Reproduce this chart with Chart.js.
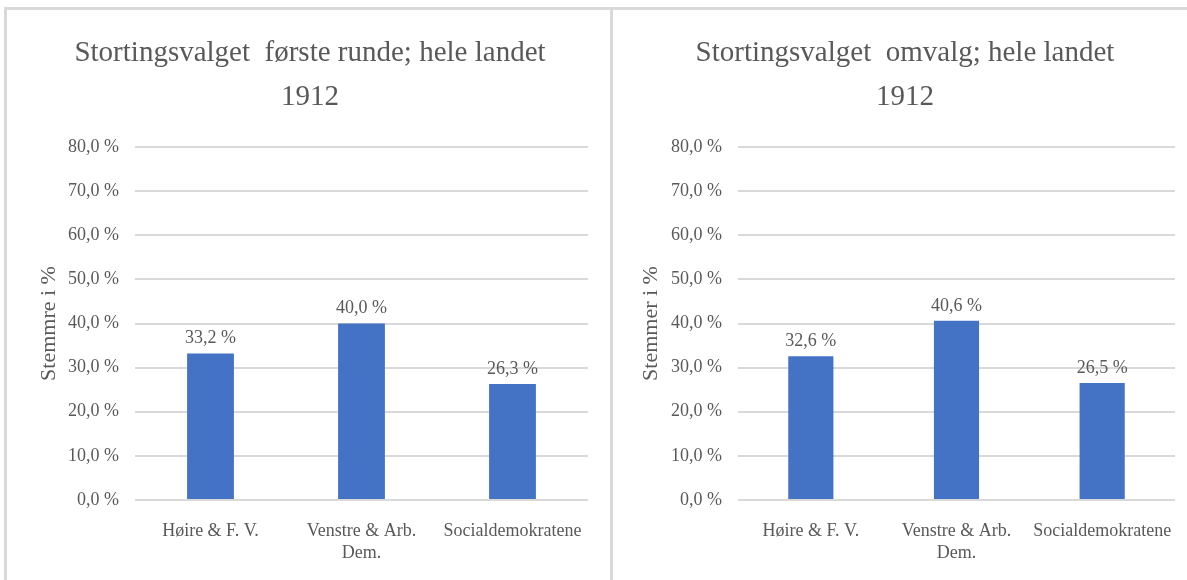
<!DOCTYPE html>
<html>
<head>
<meta charset="utf-8">
<script src="https://cdn.jsdelivr.net/npm/chart.js@4"></script>
<style>
  body { margin: 0; background: #fff; }
  .panel { position: absolute; top: 7px; height: 600px; box-sizing: border-box; border: 3px solid #d9d9d9; border-bottom: none; }
  #p1 { left: 4px; width: 609px; }
  #p2 { left: 610px; width: 620px; border-right: none; }
  canvas { position: absolute; top: 0; left: 0; }
</style>
</head>
<body>
<div class="panel" id="p1"><canvas id="forsteRunde" width="603" height="570"></canvas></div>
<div class="panel" id="p2"><canvas id="omvalg" width="574" height="570"></canvas></div>
<script>
// partier og stemmeandeler (prosent)
const partier = ['Høire & F. V.', ['Venstre & Arb.', 'Dem.'], 'Socialdemokratene'];
const forsteRunde = [33.2, 40.0, 26.3];
const omvalg = [32.6, 40.6, 26.5];
const yMin = 0;
const yMax = 80;
const ySteg = 10;

const gra = '#595959';
const bla = '#4472C4';
const serif = "'Liberation Serif', 'Times New Roman', serif";

const prosent = (v) => v.toFixed(1).replace('.', ',') + ' %';

// skriver verdien over hver stolpe
const verdiEtiketter = {
    id: 'verdiEtiketter',
    afterDatasetsDraw(chart) {
        const ctx = chart.ctx;
        const meta = chart.getDatasetMeta(0);
        ctx.save();
        ctx.font = '18px ' + serif;
        ctx.fillStyle = gra;
        ctx.textAlign = 'center';
        ctx.textBaseline = 'bottom';
        meta.data.forEach((bar, i) => {
            ctx.fillText(prosent(chart.data.datasets[0].data[i]), bar.x, bar.y - 6);
        });
        ctx.restore();
    }
};

const lagDiagram = (id, tittel, aksetittel, data, venstrePad, yBredde, tittelPad, hoyrePad) => {
    const ctx = document.getElementById(id).getContext('2d');
    return new Chart(ctx, {
        type: 'bar',
        data: {
            labels: partier,
            datasets: [{
                data: data,
                backgroundColor: bla,
                categoryPercentage: 1,
                barPercentage: 0.31
            }]
        },
        options: {
            responsive: false,
            animation: false,
            layout: { padding: { left: venstrePad, right: hoyrePad, top: 0, bottom: 0 } },
            plugins: {
                legend: { display: false },
                tooltip: { enabled: false },
                title: {
                    display: true,
                    text: tittel,
                    color: gra,
                    font: { family: serif, size: 29, weight: 'normal', lineHeight: 1.5 },
                    padding: { top: 22, bottom: 28 }
                }
            },
            scales: {
                x: {
                    grid: { display: false },
                    border: { display: false },
                    ticks: {
                        color: gra,
                        font: { family: serif, size: 18, lineHeight: 1.25 },
                        padding: 12,
                        maxRotation: 0,
                        autoSkip: false
                    },
                    afterFit: (scale) => { scale.height = 80; }
                },
                y: {
                    min: yMin,
                    max: yMax,
                    border: { display: false },
                    grid: { color: '#d9d9d9', lineWidth: 2, drawTicks: false },
                    ticks: {
                        stepSize: ySteg,
                        color: gra,
                        font: { family: serif, size: 18 },
                        padding: 16,
                        callback: (v) => prosent(v)
                    },
                    title: {
                        display: true,
                        text: aksetittel,
                        color: gra,
                        font: { family: serif, size: 22 },
                        padding: { top: tittelPad, bottom: 0 }
                    },
                    afterFit: (scale) => { scale.width = yBredde; }
                }
            }
        },
        plugins: [verdiEtiketter]
    });
};

lagDiagram('forsteRunde', ['Stortingsvalget  første runde; hele landet', '1912'], 'Stemmre i %', forsteRunde, 25, 103, 4, 22);
lagDiagram('omvalg', ['Stortingsvalget  omvalg; hele landet', '1912'], 'Stemmer i %', omvalg, 22, 103, 3, 12);
</script>
</body>
</html>
